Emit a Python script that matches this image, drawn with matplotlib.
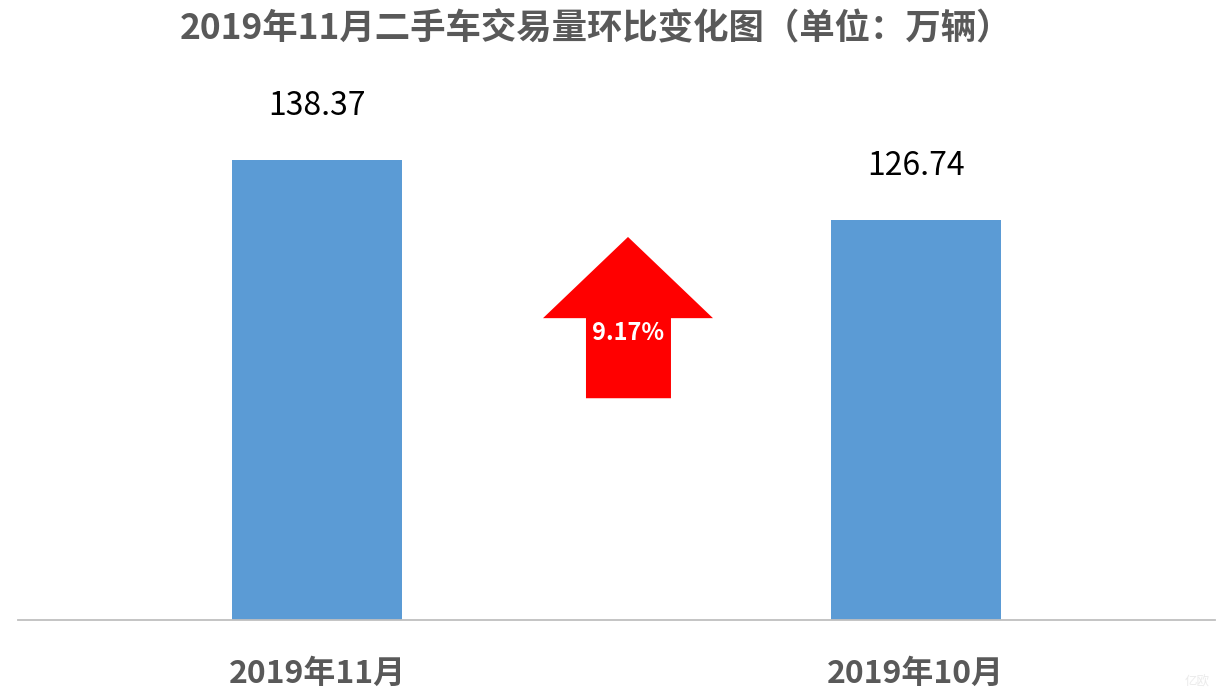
import matplotlib.pyplot as plt
from matplotlib.patches import Polygon

plt.rcParams['font.family'] = ['Noto Sans CJK SC', 'DejaVu Sans']

# 数据
months = ['2019年11月', '2019年10月']
volumes = [138.37, 126.74]
change_label = ['9.17%']

title = '2019年11月二手车交易量环比变化图（单位：万辆）'
bar_color = '#5B9BD5'
text_gray = '#595959'

fig = plt.figure(figsize=(12.28, 6.95), dpi=100)
ax = fig.add_axes([18 / 1228, 75 / 695, 1197 / 1228, 560 / 695])

x = range(len(months))
ax.bar(x, volumes, width=0.284, color=bar_color, zorder=2)
for xi, v in zip(x, volumes):
    ax.annotate(f'{v:.2f}', (xi, v), xytext=(0, 38), textcoords='offset pixels',
                ha='center', va='bottom', fontsize=23, color='black')

ax.set_xlim(-0.5, 1.5)
ax.set_ylim(49.2, 157.7)
ax.set_yticks([])
ax.set_xticks(list(x))
ax.set_xticklabels(months, fontsize=23, fontweight='bold', color=text_gray)
ax.tick_params(axis='x', length=0, pad=27)
for s in ['top', 'right', 'left']:
    ax.spines[s].set_visible(False)
ax.spines['bottom'].set_color('#BFBFBF')
ax.spines['bottom'].set_linewidth(1.3)

# 环比上升箭头
arrow = Polygon([(0.5096, 0.684), (0.5806, 0.539), (0.5455, 0.539), (0.5455, 0.396),
                 (0.4745, 0.396), (0.4745, 0.539), (0.4386, 0.539)],
                closed=True, facecolor='#FF0000', edgecolor='none',
                transform=ax.transAxes, zorder=3)
ax.add_patch(arrow)
ax.text(0.5096, 0.512, change_label[0], transform=ax.transAxes, ha='center', va='center',
        fontsize=17, fontweight='bold', color='white', zorder=4)

fig.text(596 / 1228, 1 - 29 / 695, title, ha='center', va='center',
         fontsize=25.5, fontweight='bold', color=text_gray)

# 水印
fig.text(1210 / 1228, 1 - 682 / 695, '亿欧', ha='right', va='center',
         fontsize=9, color='#EBEBEB')

fig.savefig('out.png', dpi=100)
